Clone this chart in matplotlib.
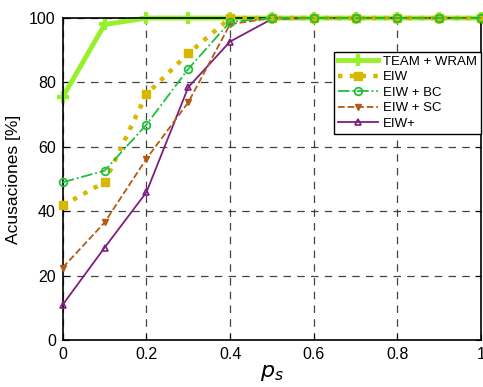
import matplotlib
matplotlib.use("Agg")
import matplotlib.pyplot as plt

# probabilidad p_s
ps = [0, 0.1, 0.2, 0.3, 0.4, 0.5, 0.6, 0.7, 0.8, 0.9, 1.0]

team_wram = [75.5, 98, 100, 100, 100, 100, 100, 100, 100, 100, 100]
eiw = [41.8, 49, 76.3, 89, 100, 100, 100, 100, 100, 100, 100]
eiw_bc = [49, 52.6, 66.9, 84.2, 98.8, 100, 100, 100, 100, 100, 100]
eiw_sc = [22.5, 36.5, 56.3, 73.8, 98.1, 100, 100, 100, 100, 100, 100]
eiw_plus = [11, 28.7, 45.9, 78.5, 92.7, 99.7, 100, 100, 100, 100, 100]

plt.rcParams['font.family'] = ['Liberation Sans', 'DejaVu Sans']

fig = plt.figure(figsize=(4.83, 3.87), dpi=100)
ax = fig.add_axes([0.130, 0.1214, 0.866, 0.832])

ax.plot(ps, team_wram, '-', color='#96F02A', linewidth=3.5, marker='+',
        markersize=9, markeredgewidth=3, label='TEAM + WRAM', zorder=2, clip_on=False)
ax.plot(ps, eiw_plus, '-', color='#7E1E80', linewidth=1.3, marker='^',
        markersize=5, markerfacecolor='none', markeredgewidth=1.2, label='EIW+', zorder=3, clip_on=False)
ax.plot(ps, eiw_sc, '--', color='#B45A12', linewidth=1.3, marker='v',
        markersize=5, markeredgewidth=1.0, label='EIW + SC', zorder=4, clip_on=False)
ax.plot(ps, eiw, ':', color='#D6B800', linewidth=3.2, marker='s',
        markersize=5.5, label='EIW', zorder=4, clip_on=False)
ax.plot(ps, eiw_bc, '-.', color='#1FBF3A', linewidth=1.3, marker='o',
        markersize=5.5, markerfacecolor='none', markeredgewidth=1.3, label='EIW + BC', zorder=5, clip_on=False)

ax.set_xlim(0, 1)
ax.set_ylim(0, 100)
ax.set_xticks([0, 0.2, 0.4, 0.6, 0.8, 1])
ax.set_xticklabels(['0', '0.2', '0.4', '0.6', '0.8', '1'])
ax.set_yticks([0, 20, 40, 60, 80, 100])
ax.tick_params(direction='in', labelsize=11.5, length=4, top=True, right=True, pad=5)
ax.grid(True, linestyle=(0, (6, 5)), color='#222222', linewidth=0.9, alpha=0.85)
for s in ax.spines.values():
    s.set_linewidth(1.2)

ax.set_xlabel('$p_s$', fontsize=16, labelpad=0)
ax.set_ylabel('Acusaciones [%]', fontsize=12.5, labelpad=6)

handles, labels = ax.get_legend_handles_labels()
order = ['TEAM + WRAM', 'EIW', 'EIW + BC', 'EIW + SC', 'EIW+']
hmap = dict(zip(labels, handles))
leg = ax.legend([hmap[k] for k in order], order, loc='upper right',
                bbox_to_anchor=(1.0, 0.896), fontsize=9.5, fancybox=False,
                framealpha=1, edgecolor='black', handlelength=3.0,
                borderpad=0.3, labelspacing=0.25, borderaxespad=0,
                handletextpad=0.4)
leg.get_frame().set_linewidth(1.0)
leg.set_zorder(10)

fig.savefig('out.png', dpi=100)
